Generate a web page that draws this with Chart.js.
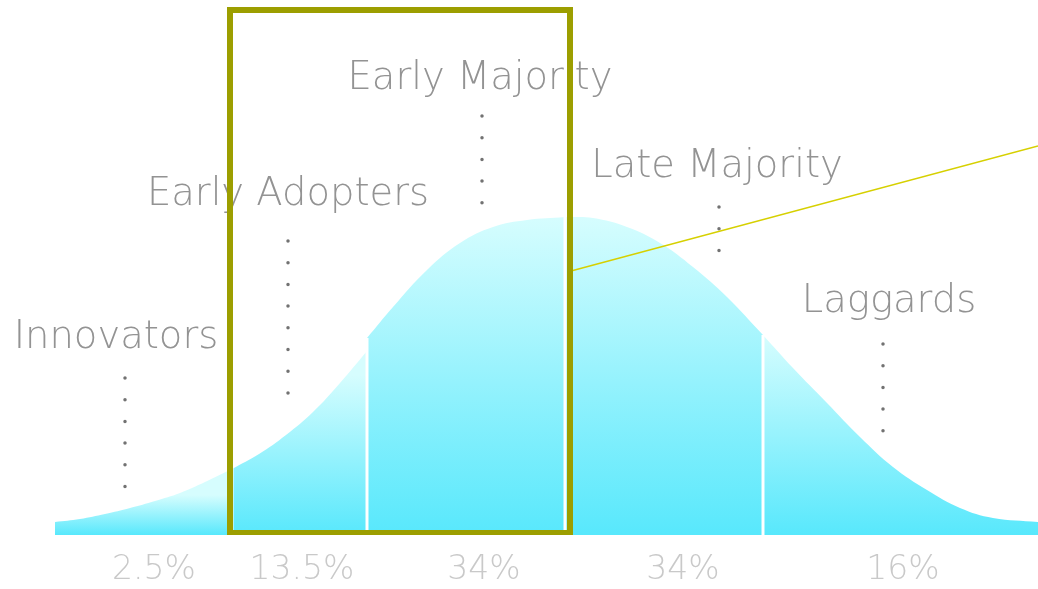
<!DOCTYPE html>
<html><head><meta charset="utf-8">
<script src="https://cdn.jsdelivr.net/npm/chart.js@4.4.0/dist/chart.umd.min.js"></script>
<style>html,body{margin:0;padding:0;background:#fff;}#wrap{width:1038px;height:589px;}</style>
</head><body><div id="wrap"><canvas id="c"></canvas></div>
<script>
// ---- Data ----
const segmentNames = ['Innovators','Early Adopters','Early Majority','Late Majority','Laggards'];
const shareLabels  = ['2.5%','13.5%','34%','34%','16%'];
const shareLabelX  = [154, 302, 484, 683, 903];

const innovatorsX    = [55, 80, 105, 130, 155, 180, 205, 232];
const innovatorsY    = [13, 16, 21, 27, 34, 42, 53, 66];
const earlyAdoptersX = [232, 259, 286, 313, 340, 367];
const earlyAdoptersY = [66, 81, 100, 123, 152, 184];
const earlyMajorityX = [367, 393, 427, 460, 493, 527, 565];
const earlyMajorityY = [197, 228, 265, 292, 308, 315, 318];
const lateMajorityX  = [565, 593, 627, 660, 693, 727, 763];
const lateMajorityY  = [318, 317, 308, 292, 268, 238, 200];
const laggardsX      = [763, 793, 827, 860, 893, 927, 960, 993, 1038];
const laggardsY      = [200, 167, 132, 98, 68, 45, 27, 17, 13];

// segment boundaries (x) and separator heights
const boundaryX = [232, 367, 565, 763];
const boundaryH = [70, 197, 320, 200];

// label anchors (x, baseline height)
const nameX = [116, 288, 480, 717, 889];
const nameY = [187, 330, 446, 358, 223];
// dotted leader lines: x, top height, bottom height
const leaderX   = [125, 288, 482, 719, 883];
const leaderTop = [157, 294, 419, 328, 191];
const leaderBot = [47, 141, 332, 283, 103];

// highlight frame and pointer line
const frameX = [230, 570, 570, 230, 230, 570];
const frameY = [525, 525, 2, 2, 525, 525];
const pointerX = [571, 1038];
const pointerY = [264, 389];

// ---- Styles ----
const gradTop = [40, 160, 318, 318, 200];
const topColor = '#d6fdfe', bottomColor = '#58e8fc';

const zip = (xs, ys) => xs.map((x, i) => ({x, y: ys[i]}));
const segXs = [innovatorsX, earlyAdoptersX, earlyMajorityX, lateMajorityX, laggardsX];
const segYs = [innovatorsY, earlyAdoptersY, earlyMajorityY, lateMajorityY, laggardsY];

const datasets = [];
datasets.push({
  data: zip(frameX, frameY), borderColor: '#9c9e00', borderWidth: 6,
  borderJoinStyle: 'miter', pointRadius: 0, fill: false, order: 0, tension: 0
});
datasets.push({
  data: zip(pointerX, pointerY), borderColor: '#d6d000', borderWidth: 1.5,
  pointRadius: 0, fill: false, order: 0, tension: 0
});
leaderX.forEach((lx, i) => datasets.push({
  data: [{x: lx, y: leaderTop[i]}, {x: lx, y: leaderBot[i]}],
  borderColor: '#727272', borderWidth: 3.5, borderDash: [0, 21.7], borderCapStyle: 'round',
  pointRadius: 0, fill: false, order: 1, tension: 0
}));
boundaryX.forEach((bx, i) => datasets.push({
  data: [{x: bx, y: 0}, {x: bx, y: boundaryH[i]}],
  borderColor: '#ffffff', borderWidth: 3, pointRadius: 0, fill: false, order: 2, tension: 0
}));
segXs.forEach((xs, i) => datasets.push({
  label: segmentNames[i],
  data: zip(xs, segYs[i]),
  borderWidth: 0, borderColor: 'rgba(0,0,0,0)', pointRadius: 0,
  fill: 'origin', tension: 0.4, order: 3,
  backgroundColor: (ctx) => {
    const chart = ctx.chart; const area = chart.chartArea;
    if (!area) return bottomColor;
    const ys = chart.scales.y;
    const g = chart.ctx.createLinearGradient(0, ys.getPixelForValue(gradTop[i]), 0, ys.getPixelForValue(0));
    g.addColorStop(0, topColor); g.addColorStop(1, bottomColor);
    return g;
  }
}));

const labelPlugin = {
  id: 'segLabels',
  beforeDatasetsDraw(chart) {
    const {ctx, scales: {x, y}} = chart;
    ctx.save();
    ctx.font = '200 38.5px "DejaVu Sans"';
    ctx.fillStyle = '#939393';
    ctx.textAlign = 'center';
    ctx.textBaseline = 'alphabetic';
    segmentNames.forEach((t, i) => ctx.fillText(t, x.getPixelForValue(nameX[i]), y.getPixelForValue(nameY[i])));
    ctx.restore();
  }
};

new Chart(document.getElementById('c'), {
  type: 'line',
  data: {datasets},
  plugins: [labelPlugin],
  options: {
    responsive: true, maintainAspectRatio: false, animation: false,
    layout: {padding: 0},
    plugins: {legend: {display: false}, tooltip: {enabled: false}},
    scales: {
      x: {
        type: 'linear', min: 0, max: 1038, position: 'bottom',
        grid: {display: false, drawTicks: false}, border: {display: false},
        afterBuildTicks: (s) => { s.ticks = shareLabelX.map(v => ({value: v})); },
        afterFit: (s) => { s.height = 54; },
        ticks: {
          autoSkip: false, maxRotation: 0, padding: 16,
          color: '#c9c9c9', font: {family: 'DejaVu Sans', size: 33, weight: 200},
          callback: (v, i) => shareLabels[i]
        }
      },
      y: {display: false, min: 0, max: 535}
    }
  }
});
</script></body></html>
